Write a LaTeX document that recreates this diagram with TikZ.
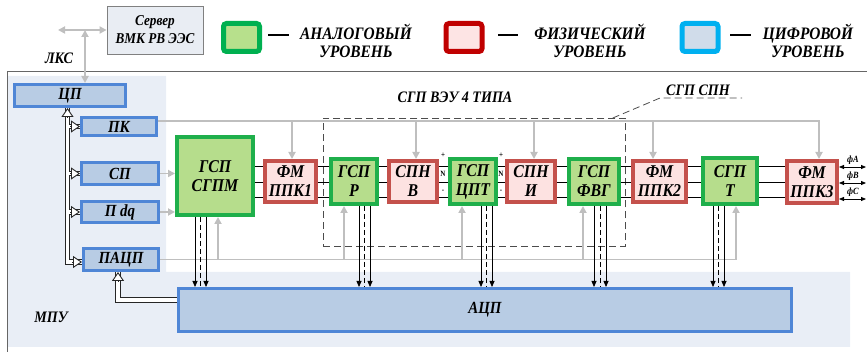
\documentclass[tikz,border=0pt]{standalone}
\usepackage{fontspec}
\setmainfont{Liberation Serif}[FakeStretch=0.88]
\usetikzlibrary{arrows.meta,calc}
\definecolor{grnB}{HTML}{1FAF4B}
\definecolor{grnF}{HTML}{B6DD8C}
\definecolor{redB}{HTML}{C4514C}
\definecolor{redF}{HTML}{FDE2E1}
\definecolor{bluB}{HTML}{4F86D6}
\definecolor{bluF}{HTML}{B8CCE4}
\definecolor{lgG}{HTML}{00B050}
\definecolor{lgGF}{HTML}{B7E08C}
\definecolor{lgR}{HTML}{C00000}
\definecolor{lgRF}{HTML}{FDE4E4}
\definecolor{lgB}{HTML}{00B0F0}
\definecolor{lgBF}{HTML}{D0DCEA}
\definecolor{grayL}{HTML}{BFBFBF}
\definecolor{bgL}{HTML}{E9EEF6}
\definecolor{srvF}{HTML}{E9EDF3}
\begin{document}
\begin{tikzpicture}[x=1pt,y=-1pt,
  bf/.style={font=\fontsize{#1}{19}\selectfont\bfseries\itshape},
  gbox/.style={draw=grnB, fill=grnF, line width=4pt, align=center, inner sep=0pt, bf=18},
  rbox/.style={draw=redB, fill=redF, line width=4pt, align=center, inner sep=0pt, bf=18},
  bbox/.style={draw=bluB, fill=bluF, line width=3pt, align=center, inner sep=0pt, bf=17},
  lbl/.style={inner sep=0pt, align=center, bf=16},
  gl/.style={draw=grayL, line width=1.8pt},
  gar/.style={gl, -{Triangle[length=7pt,width=7pt]}},
  sig/.style={draw=black, line width=0.8pt},
  sar/.style={sig, -{Triangle[length=6pt,width=5pt]}},
  bus/.style={draw=black!85, line width=0.9pt, double=white, double distance=3.4pt},
  tipH/.style={draw=black!85, line width=0.9pt, -{Triangle[open,length=9pt,width=12pt,fill=white]}},
  dsh/.style={draw=black!70, line width=0.8pt, dash pattern=on 7pt off 4pt},
  lgsq/.style={line width=5pt, rounded corners=3pt, minimum width=36pt, minimum height=28pt, inner sep=0pt}
]
\useasboundingbox (0,0) rectangle (867,352);
% background region and frame
\fill[bgL] (8,76) -- (166,76) -- (166,272) -- (850,272) -- (850,347) -- (8,347) -- cycle;
\draw[black!60, line width=1pt] (867,72) -- (7,72) -- (7,352);

% server and LKS
\node[draw=black!50, fill=srvF, line width=0.8pt, minimum width=96pt, minimum height=48pt, inner sep=0pt, align=center, bf=15] (srv) at (155,30) {Сервер\\[-1pt]ВМК РВ ЭЭС};
\coordinate (lksL) at (58,30);
\coordinate (lksJ) at (85,30);
\node[lbl] (lks) at (59,58) {ЛКС};

% legend
\node[lgsq, draw=lgG, fill=lgGF] (lgg) at (241.5,37.5) {};
\node[lgsq, draw=lgR, fill=lgRF] (lgr) at (464,37.5) {};
\node[lgsq, draw=lgB, fill=lgBF] (lgb) at (700,37.5) {};
\draw[line width=2.5pt] (268,35) -- (289,35);
\draw[line width=2.5pt] (498,35) -- (518,35);
\draw[line width=2.5pt] (730,35) -- (751,35);
\node[lbl, bf=17.5] (lgtg) at (356,41) {АНАЛОГОВЫЙ\\[-1pt]УРОВЕНЬ};
\node[lbl, bf=17.5] (lgtr) at (590,41) {ФИЗИЧЕСКИЙ\\[-1pt]УРОВЕНЬ};
\node[lbl, bf=17.5] (lgtb) at (808,41) {ЦИФРОВОЙ\\[-1pt]УРОВЕНЬ};

% blue boxes
\node[bbox, minimum width=111pt, minimum height=22pt] (cp) at (70,95.5) {ЦП};
\node[bbox, minimum width=75pt, minimum height=18pt] (pk) at (119,126.5) {ПК};
\node[bbox, minimum width=77pt, minimum height=22pt] (sp) at (120,173.5) {СП};
\node[bbox, minimum width=77pt, minimum height=21pt] (pdq) at (120,212) {П dq};
\node[bbox, minimum width=75pt, minimum height=22pt] (pacp) at (121,259.5) {ПАЦП};
\node[bbox, minimum width=613pt, minimum height=43pt, bf=17] (adc) at (485,310) {АЦП};
\node[lbl] (mpu) at (51,317) {МПУ};

% dashed group
\node[dsh, minimum width=302pt, minimum height=128pt, anchor=north west, inner sep=0pt] (vey) at (323,118) {};
\node[lbl] (veyl) at (455,97) {СГП ВЭУ 4 ТИПА};
\coordinate (ld1) at (660,98);
\coordinate (ld2) at (742,98);
\node[lbl, anchor=south] (spnl) at (698,96) {СГП СПН};

% main row
\node[gbox, minimum width=76pt, minimum height=78pt] (sgpm) at (215,176) {ГСП\\СГПМ};
\node[rbox, minimum width=51pt, minimum height=41pt] (ppk1) at (290.5,181.5) {ФМ\\ППК1};
\node[gbox, minimum width=46pt, minimum height=45pt] (r) at (354,181.5) {ГСП\\Р};
\node[rbox, minimum width=48pt, minimum height=41pt] (v) at (413,181.5) {СПН\\В};
\node[gbox, minimum width=46pt, minimum height=45pt] (cpt) at (473,181.5) {ГСП\\ЦПТ};
\node[rbox, minimum width=48pt, minimum height=41pt] (i) at (531,181.5) {СПН\\И};
\node[gbox, minimum width=50pt, minimum height=45pt] (fvg) at (594,181.5) {ГСП\\ФВГ};
\node[rbox, minimum width=53pt, minimum height=41pt] (ppk2) at (659.5,181.5) {ФМ\\ППК2};
\node[gbox, minimum width=54pt, minimum height=46pt] (t) at (730,181) {СГП\\Т};
\node[rbox, minimum width=50pt, minimum height=42pt] (ppk3) at (812,182) {ФМ\\ППК3};

% small polarity marks
\foreach \xx in {443,501}{
  \node[inner sep=0pt, font=\fontsize{8}{8}\selectfont\bfseries] at (\xx,155) {+};
  \node[inner sep=0pt, font=\fontsize{8}{8}\selectfont\bfseries] at (\xx,174) {N};
  \node[inner sep=0pt, font=\fontsize{8}{8}\selectfont\bfseries] at (\xx,191) {-};
}

% phase outputs
\coordinate (fA) at (866,167);
\coordinate (fB) at (866,183);
\coordinate (fC) at (866,199);
\node[inner sep=0pt, font=\fontsize{9.5}{9.5}\selectfont\bfseries\itshape] (lA) at (853,160) {фA};
\node[inner sep=0pt, font=\fontsize{9.5}{9.5}\selectfont\bfseries\itshape] (lB) at (853,176) {фB};
\node[inner sep=0pt, font=\fontsize{9.5}{9.5}\selectfont\bfseries\itshape] (lC) at (853,192) {фC};

% ---- connectors ----
% LKS
\draw[gl, {Triangle[length=7pt,width=7pt]}-{Triangle[length=7pt,width=7pt]}] (lksL) -- (srv.west |- lksL);
\draw[gl, {Triangle[length=7pt,width=7pt]}-{Triangle[length=7pt,width=7pt]}] (lksJ) -- (lksJ |- cp.north);

% gray top bus
\coordinate (tb) at (0,121);
\draw[gar] (pk.east |- tb) -- (819,121) -- (819,182 |- ppk3.north);
\foreach \xx/\nd in {292/ppk1,416/v,534/i,653/ppk2}{
  \draw[gar] (\xx,121) -- (\xx,182 |- \nd.north);
}
% gray bottom bus
\draw[gar] (pacp.east) -- (736,259.5) -- (736,182 |- t.south);
\foreach \xx/\nd in {218/sgpm,344/r,462/cpt,583/fvg}{
  \draw[gar] (\xx,259.5) -- (\xx,182 |- \nd.south);
}
\draw[gar] (sp.east) -- (sgpm.west |- sp.east);
\draw[gar] (pdq.east) -- (sgpm.west |- pdq.east);

% dashed leader
\draw[dsh] ([xshift=-13pt]vey.north east) -- (ld1) -- (ld2);

% signal rows
\coordinate (y1) at (0,166);
\coordinate (y2) at (0,182);
\coordinate (y3) at (0,197);
\foreach \a/\b in {sgpm/ppk1,ppk1/r,r/v,v/cpt,cpt/i,i/fvg,fvg/ppk2,ppk2/t,t/ppk3}{
  \foreach \yy in {y1,y2,y3}{
    \draw[sig] (\a.east |- \yy) -- (\b.west |- \yy);
  }
}
\foreach \pp in {fA,fB,fC}{
  \draw[sig, {Triangle[length=5pt,width=4pt]}-{Triangle[length=5pt,width=4pt]}] (ppk3.east |- \pp) -- (\pp);
}

% green boxes to ADC
\foreach \xa/\xm/\xb/\nd in {195/200.5/206/sgpm,359/364.5/370/r,481/486.5/492/cpt,594/600/606/fvg,713/718.5/724/t}{
  \draw[sar] (\xa,182 |- \nd.south) -- (\xa,182 |- adc.north);
  \draw[sar] (\xb,182 |- \nd.south) -- (\xb,182 |- adc.north);
  \draw[sig, line width=0.6pt, dash pattern=on 5pt off 3pt] (\xm,182 |- \nd.south) -- (\xm,182 |- adc.north);
}

% hollow buses
\coordinate (busx) at (67.5,0);
\coordinate (busy) at (0,262);
\coordinate (bx2) at (69,0);
\coordinate (ay) at (0,300);
\coordinate (ax) at (118,0);
\draw[bus] (busx |- cp.south) -- (busx |- busy) -- (pacp.west |- busy);
\draw[bus] (bx2 |- pk.west) -- (pk.west);
\draw[bus] (bx2 |- sp.west) -- (sp.west);
\draw[bus] (bx2 |- pdq.west) -- (pdq.west);
\draw[bus] (adc.west |- ay) -- (ax |- ay) -- (ax |- pacp.south);
% hollow arrow heads
\draw[tipH] ($(busx |- cp.south)+(0,10)$) -- (busx |- cp.south);
\draw[tipH] ($(pacp.west |- busy)+(-10,0)$) -- (pacp.west |- busy);
\draw[tipH] ($(pk.west)+(-10,0)$) -- (pk.west);
\draw[tipH] ($(sp.west)+(-10,0)$) -- (sp.west);
\draw[tipH] ($(pdq.west)+(-10,0)$) -- (pdq.west);
\draw[tipH] ($(ax |- pacp.south)+(0,10)$) -- (ax |- pacp.south);
\end{tikzpicture}
\end{document}
